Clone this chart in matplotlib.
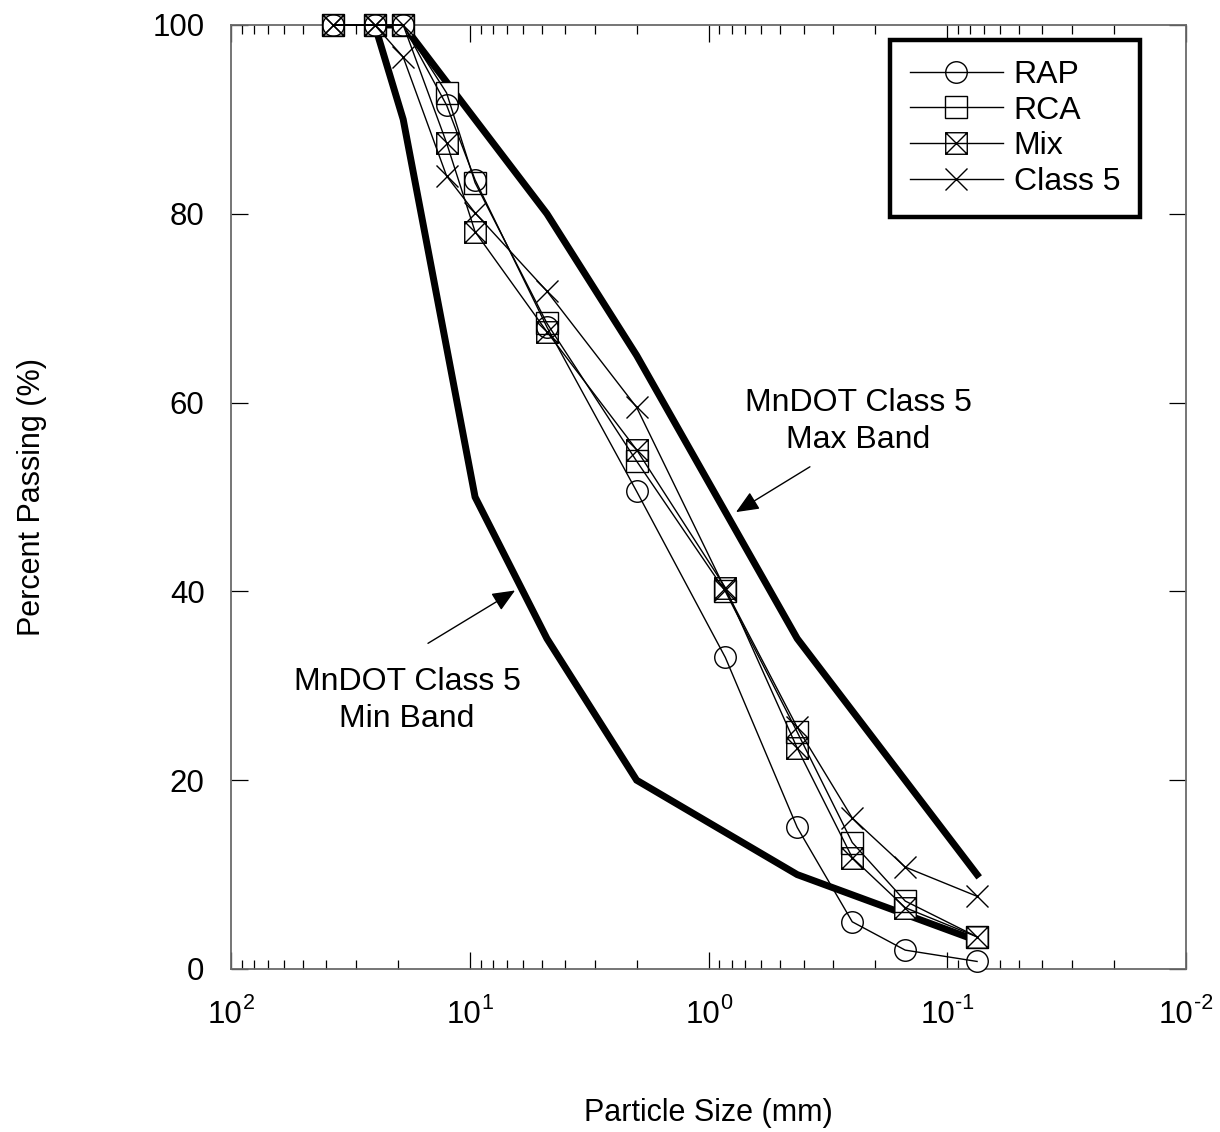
import matplotlib
matplotlib.use("Agg")
import matplotlib.pyplot as plt
from matplotlib.path import Path
from matplotlib.ticker import LogLocator, NullLocator, FixedLocator, NullFormatter

plt.rcParams['font.family'] = ['Liberation Sans', 'DejaVu Sans']

# ---- data ----
sieve_mm = [37.5, 25, 19, 12.5, 9.5, 4.75, 2.0, 0.85, 0.425, 0.25, 0.15, 0.075]
rap = [100, 100, 100, 91.5, 83.6, 68.0, 50.6, 33.0, 15.0, 5.0, 2.0, 0.8]
rca = [100, 100, 100, 92.8, 83.3, 68.4, 53.8, 40.0, 25.1, 13.4, 7.2, 3.4]
mix = [100, 100, 100, 87.5, 78.1, 67.5, 55.0, 40.4, 23.4, 11.8, 6.5, 3.4]
class5 = [100, 100, 96.6, 84.0, 80.1, 71.8, 59.5, 40.2, 25.6, 16.0, 10.8, 7.7]

band_mm = [25, 19, 9.5, 4.75, 2.0, 0.425, 0.075]
band_max = [100, 100, 90, 80, 65, 35, 10]
band_min = [100, 90, 50, 35, 20, 10, 3]

yticks = [0, 20, 40, 60, 80, 100]
xtick_exps = [2, 1, 0, -1, -2]

# ---- figure ----
fig = plt.figure(figsize=(12.2, 11.32), dpi=100)
ax = fig.add_axes([231/1220, 1-969/1132, (1186-231)/1220, (969-25)/1132])

# custom "box with X" marker
boxx = Path([(-1, -1), (1, -1), (1, 1), (-1, 1), (-1, -1),
             (-1, -1), (1, 1), (-1, 1), (1, -1)],
            [Path.MOVETO, Path.LINETO, Path.LINETO, Path.LINETO, Path.CLOSEPOLY,
             Path.MOVETO, Path.LINETO, Path.MOVETO, Path.LINETO])

ms = 15.5
# spec bands
ax.plot(band_mm, band_max, color='black', lw=5.0, solid_joinstyle='miter', zorder=2)
ax.plot(band_mm, band_min, color='black', lw=5.0, solid_joinstyle='miter', zorder=2)

series = [(rap, 'o', 'RAP'), (rca, 's', 'RCA'), (mix, boxx, 'Mix'), (class5, 'x', 'Class 5')]
# white underlays so bands are hidden behind markers
for vals, mk, lab in series:
    if mk != 'x':
        ax.plot(sieve_mm, vals, ls='none', marker='s' if mk is boxx else mk, ms=ms,
                mfc='white', mec='none', zorder=3, clip_on=False)
for vals, mk, lab in series:
    ax.plot(sieve_mm, vals, color='black', lw=1.0, marker=mk, ms=ms,
            mfc='none', mec='black', mew=1.0, label=lab, zorder=4, clip_on=False)

ax.set_xscale('log')
ax.set_xlim(100, 0.01)
ax.set_ylim(0, 100)
ax.yaxis.set_major_locator(FixedLocator(yticks))
ax.yaxis.set_minor_locator(NullLocator())
ax.xaxis.set_major_locator(FixedLocator([10.0**e for e in xtick_exps]))
ax.xaxis.set_minor_locator(LogLocator(base=10, subs=range(2, 10), numticks=20))
ax.xaxis.set_major_formatter(NullFormatter())
ax.xaxis.set_minor_formatter(NullFormatter())

for s in ax.spines.values():
    s.set_color('#6a6a6a')
    s.set_linewidth(1.3)

ax.tick_params(which='both', direction='in', top=True, right=True, color='black', width=0.9)
ax.tick_params(which='major', length=12, labelsize=22.5)
ax.tick_params(which='minor', length=6.5)
ax.tick_params(axis='y', which='major', pad=19)

# x tick labels "10" + raised exponent (hyphen minus, as in the original)
fs_base, fs_exp = 22.5, 15.5
w10 = 2 * 0.556 * fs_base
for e in xtick_exps:
    es = str(e)
    wex = sum(0.333 if ch == '-' else 0.556 for ch in es) * fs_exp
    left = -(w10 + wex) / 2
    ax.annotate('10', xy=(10.0**e, 0), xycoords=('data', 'axes fraction'),
                xytext=(left, -39), textcoords='offset points',
                ha='left', va='baseline', fontsize=fs_base, annotation_clip=False)
    ax.annotate(es, xy=(10.0**e, 0), xycoords=('data', 'axes fraction'),
                xytext=(left + w10 + 0.3, -28.5), textcoords='offset points',
                ha='left', va='baseline', fontsize=fs_exp, annotation_clip=False)

ax.set_xlabel('Particle Size (mm)', fontsize=22)
ax.set_ylabel('Percent Passing (%)', fontsize=22)
ax.xaxis.set_label_coords(0.5, -0.137)
ax.yaxis.set_label_coords(-0.193, 0.5)

leg = ax.legend(loc='upper right', bbox_to_anchor=(0.952, 0.984), fontsize=23,
                frameon=True, fancybox=False, edgecolor='black', framealpha=1,
                handlelength=2.9, handletextpad=0.35, labelspacing=0.18,
                borderpad=0.62, borderaxespad=0.0)
leg.get_frame().set_linewidth(3.2)

arrow_kw = dict(arrowstyle='-|>,head_length=0.7,head_width=0.3', color='black',
                lw=1.0, shrinkA=0, shrinkB=0, mutation_scale=20)
ax.text(0.2366, 58.0, 'MnDOT Class 5\nMax Band', ha='center', va='center',
        fontsize=23, linespacing=1.3)
ax.annotate('', xy=(0.767, 48.4), xytext=(0.376, 53.2), arrowprops=arrow_kw)
ax.text(18.3, 28.4, 'MnDOT Class 5\nMin Band', ha='center', va='center',
        fontsize=23, linespacing=1.3)
ax.annotate('', xy=(6.46, 40.1), xytext=(14.96, 34.5), arrowprops=arrow_kw)

fig.savefig('out.png', dpi=100, facecolor='white')
